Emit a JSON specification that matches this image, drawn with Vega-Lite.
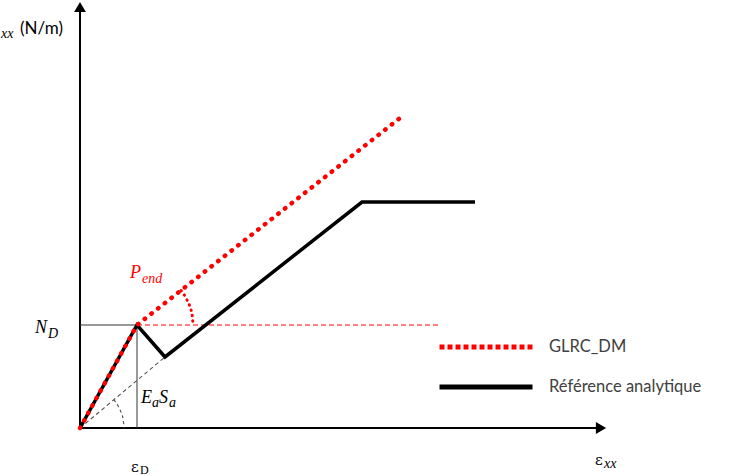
{
  "$schema": "https://vega.github.io/schema/vega-lite/v6.json",
  "width": 730,
  "height": 476,
  "autosize": {"type": "none"},
  "padding": 0,
  "background": "white",
  "config": {"view": {"stroke": null}},
  "encoding": {
    "x": {"field": "eps", "type": "quantitative", "scale": {"domain": [-80, 650], "nice": false, "zero": false}, "axis": null},
    "y": {"field": "N", "type": "quantitative", "scale": {"domain": [-48, 428], "nice": false, "zero": false}, "axis": null}
  },
  "layer": [
    {
      "data": {"values": [
        {"eps": 0, "N": 0, "eps2": 516, "N2": 0},
        {"eps": 0, "N": 0, "eps2": 0, "N2": 416}
      ]},
      "mark": {"type": "rule", "color": "#000000", "strokeWidth": 2},
      "encoding": {"x2": {"field": "eps2"}, "y2": {"field": "N2"}}
    },
    {
      "data": {"values": [
        {"eps": 521, "N": 0, "shape": "triangle-right"},
        {"eps": 0, "N": 421, "shape": "triangle-up"}
      ]},
      "mark": {"type": "point", "filled": true, "color": "#000000", "size": 140, "opacity": 1},
      "encoding": {"shape": {"field": "shape", "type": "nominal", "scale": null, "legend": null}}
    },
    {
      "data": {"values": [
        {"eps": 0, "N": 103, "eps2": 57, "N2": 103},
        {"eps": 57, "N": 0, "eps2": 57, "N2": 103}
      ]},
      "mark": {"type": "rule", "color": "#333333", "strokeWidth": 1},
      "encoding": {"x2": {"field": "eps2"}, "y2": {"field": "N2"}}
    },
    {
      "data": {"values": [
        {"eps": 57, "N": 103, "eps2": 360, "N2": 103}
      ]},
      "mark": {"type": "rule", "color": "#ff0000", "strokeWidth": 1.2, "strokeDash": [5, 3]},
      "encoding": {"x2": {"field": "eps2"}, "y2": {"field": "N2"}}
    },
    {
      "data": {"values": [
        {"eps": 0, "N": 0, "eps2": 85, "N2": 71}
      ]},
      "mark": {"type": "rule", "color": "#555555", "strokeWidth": 1.1, "strokeDash": [4, 3]},
      "encoding": {"x2": {"field": "eps2"}, "y2": {"field": "N2"}}
    },
    {
      "data": {"values": [
        {"eps": 33.7, "N": 28.3},
        {"eps": 38.1, "N": 22.0},
        {"eps": 41.3, "N": 15.0},
        {"eps": 43.3, "N": 7.6},
        {"eps": 44, "N": 0}
      ]},
      "mark": {"type": "line", "color": "#555555", "strokeWidth": 1.2, "strokeDash": [3, 3], "interpolate": "monotone"},
      "encoding": {}
    },
    {
      "data": {"values": [
        {"eps": 101.1, "N": 137.5},
        {"eps": 106.4, "N": 129.3},
        {"eps": 110.3, "N": 120.3},
        {"eps": 112.3, "N": 111.8},
        {"eps": 113, "N": 103}
      ]},
      "mark": {"type": "line", "color": "#ff0000", "strokeWidth": 3, "strokeDash": [0.5, 5], "strokeCap": "round", "interpolate": "monotone"},
      "encoding": {}
    },
    {
      "data": {"values": [
        {"series": "Référence analytique", "eps": 0, "N": 0},
        {"series": "Référence analytique", "eps": 57, "N": 103},
        {"series": "Référence analytique", "eps": 85, "N": 71},
        {"series": "Référence analytique", "eps": 282, "N": 226},
        {"series": "Référence analytique", "eps": 395, "N": 226}
      ]},
      "mark": {"type": "line", "strokeWidth": 3.5, "strokeJoin": "miter"},
      "encoding": {
        "color": {
          "field": "series", "type": "nominal",
          "scale": {"domain": ["GLRC_DM", "Référence analytique"], "range": ["#ff0000", "#000000"]},
          "legend": {
            "title": null, "orient": "none", "legendX": 437, "legendY": 337,
            "symbolType": "stroke", "symbolSize": 8649, "symbolStrokeWidth": 5,
            "clipHeight": 20, "rowPadding": 20, "labelOffset": 14,
            "labelFont": "Lato", "labelFontSize": 16.5, "labelColor": "#404040",
            "padding": 0, "labelLimit": 0,
            "encode": {"symbols": {"update": {
              "strokeDash": {"signal": "datum.value === 'GLRC_DM' ? [5,3] : [1,0]"},
              "strokeWidth": {"value": 5}
            }}}
          }
        }
      }
    },
    {
      "data": {"values": [
        {"series": "GLRC_DM", "eps": 0, "N": 0},
        {"series": "GLRC_DM", "eps": 57, "N": 103},
        {"series": "GLRC_DM", "eps": 320, "N": 310}
      ]},
      "mark": {"type": "line", "strokeWidth": 4.5, "strokeDash": [0.5, 8], "strokeCap": "round"},
      "encoding": {"color": {"field": "series", "type": "nominal"}}
    },
    {
      "data": {"values": [
        {"t": "N", "eps": -45, "N": 95},
        {"t": "E", "eps": 61, "N": 25},
        {"t": "S", "eps": 79, "N": 25},
        {"t": "N", "eps": -93, "N": 394}
      ]},
      "mark": {"type": "text", "font": "Liberation Serif", "fontStyle": "italic", "fontSize": 18, "color": "#000000", "align": "left", "baseline": "alphabetic"},
      "encoding": {"text": {"field": "t"}}
    },
    {
      "data": {"values": [
        {"t": "D", "eps": -32, "N": 90},
        {"t": "a", "eps": 72, "N": 21},
        {"t": "a", "eps": 89, "N": 21},
        {"t": "xx", "eps": 524, "N": -40},
        {"t": "xx", "eps": -79, "N": 390}
      ]},
      "mark": {"type": "text", "font": "Liberation Serif", "fontStyle": "italic", "fontSize": 14, "color": "#000000", "align": "left", "baseline": "alphabetic"},
      "encoding": {"text": {"field": "t"}}
    },
    {
      "data": {"values": [
        {"t": "ε", "eps": 51, "N": -44},
        {"t": "ε", "eps": 515, "N": -37}
      ]},
      "mark": {"type": "text", "font": "DejaVu Serif", "fontSize": 15, "color": "#000000", "align": "left", "baseline": "alphabetic"},
      "encoding": {"text": {"field": "t"}}
    },
    {
      "data": {"values": [
        {"t": "D", "eps": 60, "N": -46}
      ]},
      "mark": {"type": "text", "font": "Liberation Serif", "fontSize": 12, "color": "#000000", "align": "left", "baseline": "alphabetic"},
      "encoding": {"text": {"field": "t"}}
    },
    {
      "data": {"values": [
        {"t": "P", "eps": 50, "N": 150}
      ]},
      "mark": {"type": "text", "font": "Liberation Serif", "fontStyle": "italic", "fontSize": 18, "color": "#ff0000", "align": "left", "baseline": "alphabetic"},
      "encoding": {"text": {"field": "t"}}
    },
    {
      "data": {"values": [
        {"t": "end", "eps": 62, "N": 145}
      ]},
      "mark": {"type": "text", "font": "Liberation Serif", "fontStyle": "italic", "fontSize": 14, "color": "#ff0000", "align": "left", "baseline": "alphabetic"},
      "encoding": {"text": {"field": "t"}}
    },
    {
      "data": {"values": [
        {"t": "(N/m)", "eps": -60, "N": 394}
      ]},
      "mark": {"type": "text", "font": "Lato", "fontSize": 17, "color": "#000000", "align": "left", "baseline": "alphabetic"},
      "encoding": {"text": {"field": "t"}}
    }
  ]
}
